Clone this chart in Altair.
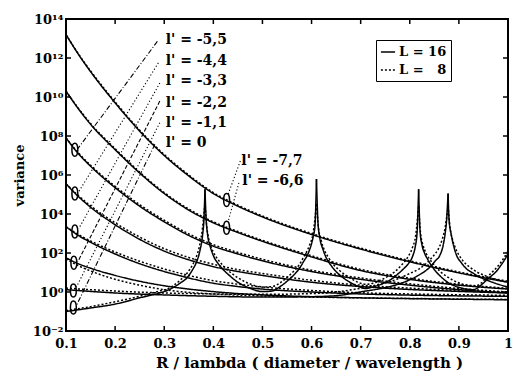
import json
import altair as alt
import pandas as pd

# ---------------- data (exponents = log10 of variance) ----------------
R_GRID = [0.1, 0.125, 0.15, 0.2, 0.25, 0.3, 0.35, 0.4, 0.45, 0.5, 0.6, 0.7, 0.8, 0.9, 1.0]

A16 = [13.2, 12.2, 11.3, 9.7, 8.25, 7.0, 5.95, 5.05, 4.4, 3.85, 2.95, 2.2, 1.55, 0.98, 0.5]
A8 = [13.2, 12.22, 11.34, 9.75, 8.3, 7.05, 6.0, 5.1, 4.45, 3.9, 3.0, 2.25, 1.6, 1.03, 0.55]
B16 = [10.3, 9.4, 8.6, 7.3, 6.1, 5.05, 4.2, 3.55, 3.05, 2.6, 1.8, 1.1, 0.65, 0.35, 0.15]
B8 = [10.3, 9.43, 8.64, 7.35, 6.15, 5.1, 4.25, 3.6, 3.1, 2.65, 1.86, 1.16, 0.71, 0.4, 0.19]
C16 = [7.9, 7.1, 6.45, 5.35, 4.4, 3.6, 2.9, 2.35, 1.95, 1.6, 1.05, 0.65, 0.35, 0.12, -0.05]
C8 = [7.9, 7.14, 6.5, 5.42, 4.48, 3.68, 2.98, 2.43, 2.03, 1.68, 1.12, 0.72, 0.42, 0.18, 0.0]
D16 = [5.55, 4.9, 4.35, 3.45, 2.7, 2.1, 1.65, 1.3, 1.05, 0.85, 0.5, 0.28, 0.13, 0.03, -0.05]
D8 = [5.55, 4.95, 4.42, 3.55, 2.82, 2.22, 1.77, 1.42, 1.15, 0.95, 0.6, 0.35, 0.2, 0.08, 0.0]
E16 = [3.35, 2.9, 2.55, 1.95, 1.45, 1.05, 0.72, 0.45, 0.28, 0.15, 0.0, -0.1, -0.16, -0.2, -0.22]
E8 = [3.35, 2.95, 2.62, 2.05, 1.58, 1.18, 0.85, 0.58, 0.4, 0.26, 0.08, -0.04, -0.1, -0.14, -0.17]
F16 = [1.75, 1.45, 1.22, 0.85, 0.55, 0.32, 0.15, 0.02, -0.08, -0.15, -0.24, -0.3, -0.34, -0.37, -0.4]
F8 = [1.7, 1.35, 1.08, 0.65, 0.35, 0.12, -0.02, -0.1, -0.16, -0.2, -0.26, -0.3, -0.33, -0.36, -0.38]

# l' = -1.1 (rises into the resonance near 0.88)
G16_R1 = [0.1, 0.15, 0.2, 0.3, 0.4, 0.5, 0.6, 0.657, 0.698, 0.739, 0.78, 0.814, 0.83, 0.84, 0.852, 0.861, 0.868, 0.872, 0.875, 0.878]
G16_E1 = [0.12, 0.03, -0.05, -0.15, -0.22, -0.26, -0.24, -0.17, 0.0, 0.17, 0.43, 0.8, 1.05, 1.25, 1.6, 1.87, 2.4, 3.0, 3.7, 5.05]
G16_R2 = [0.878, 0.88, 0.884, 0.889, 0.895, 0.905, 0.915, 0.93, 0.942, 0.96, 0.976, 1.0]
G16_E2 = [5.05, 3.7, 3.0, 2.4, 1.9, 1.5, 1.2, 0.95, 0.77, 0.58, 0.43, 0.26]
G8_R1 = [0.1, 0.15, 0.2, 0.3, 0.4, 0.5, 0.6, 0.65, 0.69, 0.73, 0.77, 0.8, 0.82, 0.835, 0.848, 0.858, 0.866, 0.872, 0.878]
G8_E1 = [0.2, 0.12, 0.05, -0.05, -0.1, -0.12, -0.08, 0.0, 0.15, 0.35, 0.62, 0.95, 1.2, 1.5, 1.85, 2.2, 2.7, 3.3, 4.4]
G8_R2 = [0.878, 0.882, 0.887, 0.893, 0.9, 0.91, 0.922, 0.937, 0.952, 0.97, 0.985, 1.0]
G8_E2 = [4.4, 3.3, 2.7, 2.25, 1.9, 1.55, 1.28, 1.02, 0.85, 0.68, 0.58, 0.5]

# l' = 0 (resonances near 0.383, 0.61, 0.818 and beyond 1)
H16_R1 = [0.1, 0.15, 0.2, 0.25, 0.29, 0.31, 0.332, 0.346, 0.359, 0.366, 0.373, 0.378, 0.381, 0.383]
H16_E1 = [-1.0, -0.82, -0.62, -0.3, -0.05, 0.12, 0.45, 0.72, 1.2, 1.55, 2.15, 2.9, 3.8, 5.27]
H16_R2 = [0.383, 0.385, 0.388, 0.393, 0.4, 0.41, 0.42, 0.435, 0.447, 0.474, 0.5, 0.52, 0.535, 0.55, 0.563, 0.575, 0.583, 0.595, 0.603, 0.607, 0.61]
H16_E2 = [5.27, 3.9, 3.0, 2.4, 1.87, 1.45, 1.15, 0.8, 0.55, 0.2, 0.02, 0.05, 0.26, 0.55, 0.85, 1.2, 1.53, 2.1, 2.8, 3.4, 5.8]
H16_R3 = [0.61, 0.613, 0.617, 0.623, 0.63, 0.64, 0.651, 0.665, 0.678, 0.698, 0.71, 0.725, 0.74, 0.752, 0.765, 0.776, 0.787, 0.797, 0.806, 0.811, 0.815, 0.818]
H16_E3 = [5.8, 3.6, 2.75, 2.2, 1.75, 1.35, 1.02, 0.72, 0.5, 0.26, 0.18, 0.26, 0.38, 0.51, 0.7, 0.93, 1.18, 1.45, 1.85, 2.3, 3.1, 5.27]
H16_R4 = [0.818, 0.821, 0.825, 0.83, 0.837, 0.844, 0.855, 0.868, 0.88, 0.895, 0.915, 0.93, 0.945, 0.956, 0.966, 0.976, 0.985, 0.993, 1.0]
H16_E4 = [5.27, 3.1, 2.4, 2.0, 1.65, 1.36, 1.0, 0.68, 0.45, 0.28, 0.15, 0.12, 0.35, 0.6, 0.82, 1.05, 1.35, 1.65, 1.96]

H8_R1 = [0.1, 0.15, 0.2, 0.25, 0.29, 0.31, 0.332, 0.346, 0.359, 0.366, 0.373, 0.378, 0.383]
H8_E1 = [-0.95, -0.75, -0.5, -0.22, 0.05, 0.2, 0.6, 0.95, 1.45, 1.85, 2.5, 3.3, 4.6]
H8_R2 = [0.383, 0.386, 0.39, 0.395, 0.4, 0.41, 0.42, 0.435, 0.447, 0.474, 0.5, 0.52, 0.535, 0.55, 0.563, 0.575, 0.583, 0.595, 0.603, 0.61]
H8_E2 = [4.6, 3.5, 2.8, 2.35, 2.05, 1.65, 1.35, 1.0, 0.78, 0.42, 0.25, 0.28, 0.45, 0.75, 1.05, 1.4, 1.75, 2.35, 3.0, 4.5]
H8_R3 = [0.61, 0.614, 0.62, 0.627, 0.635, 0.645, 0.655, 0.67, 0.685, 0.7, 0.712, 0.725, 0.74, 0.755, 0.77, 0.782, 0.795, 0.805, 0.812, 0.818]
H8_E3 = [4.5, 3.3, 2.6, 2.1, 1.75, 1.4, 1.15, 0.85, 0.62, 0.45, 0.4, 0.45, 0.6, 0.8, 1.05, 1.35, 1.75, 2.25, 2.9, 4.4]
H8_R4 = [0.818, 0.822, 0.827, 0.833, 0.84, 0.85, 0.862, 0.875, 0.89, 0.905, 0.92, 0.932, 0.945, 0.955, 0.965, 0.975, 0.985, 0.993, 1.0]
H8_E4 = [4.4, 3.0, 2.4, 2.0, 1.7, 1.38, 1.05, 0.8, 0.58, 0.42, 0.32, 0.3, 0.45, 0.7, 0.95, 1.2, 1.5, 1.8, 2.1]

# annotation labels
LABEL_TEXT = ["l' = -5,5", "l' = -4,4", "l' = -3,3", "l' = -2,2", "l' = -1,1", "l' = 0", "l' = -7,7", "l' = -6,6"]
LABEL_R = [0.303, 0.303, 0.303, 0.303, 0.303, 0.303, 0.457, 0.459]
LABEL_E = [12.94, 11.83, 10.81, 9.70, 8.68, 7.66, 6.72, 5.70]

# leader lines (label -> loop marker)
LEAD_R1 = [0.286, 0.288, 0.291, 0.291, 0.291, 0.281, 0.455, 0.452]
LEAD_E1 = [12.85, 11.75, 10.72, 9.79, 8.68, 7.57, 6.72, 5.6]
LEAD_R2 = [0.124, 0.126, 0.126, 0.124, 0.121, 0.121, 0.43, 0.43]
LEAD_E2 = [7.35, 5.15, 3.25, 1.55, 0.25, -0.7, 5.0, 3.6]
LEAD_STYLE = ["dashdot", "dot", "dot", "dash", "dot", "dashdot", "dot", "dot"]

# small loop markers on the curves
LOOP_R = [0.118, 0.118, 0.118, 0.116, 0.115, 0.115, 0.427, 0.427]
LOOP_E = [7.3, 5.05, 3.1, 1.5, 0.08, -0.8, 4.72, 3.3]

X_TICKS = [0.1, 0.2, 0.3, 0.4, 0.5, 0.6, 0.7, 0.8, 0.9, 1.0]
Y_TICK_EXP = [-2, 0, 2, 4, 6, 8, 10, 12, 14]
Y_TICK_LABELS = ["10⁻²", "10⁰", "10²", "10⁴", "10⁶", "10⁸", "10¹⁰", "10¹²", "10¹⁴"]
LEGEND_LABELS = ["L = 16", "L = \u20078"]

# ---------------- build tables ----------------
rows = []


def add(name, L, rs, es):
    for r, e in zip(rs, es):
        rows.append({"r": r, "v": 10 ** e, "series": name, "L": L})


L16, L8 = LEGEND_LABELS
for nm, s16, s8 in [("A", A16, A8), ("B", B16, B8), ("C", C16, C8),
                    ("D", D16, D8), ("E", E16, E8), ("F", F16, F8)]:
    add(nm + "16", L16, R_GRID, s16)
    add(nm + "8", L8, R_GRID, s8)
add("G16a", L16, G16_R1, G16_E1)
add("G16b", L16, G16_R2, G16_E2)
add("G8a", L8, G8_R1, G8_E1)
add("G8b", L8, G8_R2, G8_E2)
for i, (rs, es) in enumerate([(H16_R1, H16_E1), (H16_R2, H16_E2), (H16_R3, H16_E3), (H16_R4, H16_E4)]):
    add(f"H16{i}", L16, rs, es)
for i, (rs, es) in enumerate([(H8_R1, H8_E1), (H8_R2, H8_E2), (H8_R3, H8_E3), (H8_R4, H8_E4)]):
    add(f"H8{i}", L8, rs, es)
curves = pd.DataFrame(rows)

labels = pd.DataFrame({"r": LABEL_R, "v": [10 ** e for e in LABEL_E], "text": LABEL_TEXT})
leaders = pd.DataFrame({"r": LEAD_R1, "v": [10 ** e for e in LEAD_E1],
                        "r2": LEAD_R2, "v2": [10 ** e for e in LEAD_E2], "style": LEAD_STYLE})
loops = pd.DataFrame({"r": LOOP_R, "v": [10 ** e for e in LOOP_E]})
xt = pd.DataFrame({"r": X_TICKS})
yt = pd.DataFrame({"v": [10.0 ** e for e in Y_TICK_EXP]})

W, H = 442, 312
FONT = "DejaVu Serif"
XT = "R / lambda ( diameter / wavelength )"
YT = "variance"

xscale = alt.Scale(domain=[0.1, 1.0], nice=False, zero=False)
yscale = alt.Scale(type="log", domain=[1e-2, 1e14], nice=False)

y_label_expr = json.dumps(Y_TICK_LABELS, ensure_ascii=False) + "[round((log(datum.value)/LN10 + 2) / 2)]"

x_axis = alt.Axis(values=X_TICKS, labelExpr="datum.value == 1 ? '1' : format(datum.value, '.1f')",
                  title=XT, ticks=False, tickSize=0, domain=False,
                  grid=False, labelPadding=6, labelFontSize=13, labelFont=FONT, labelFontWeight="bold",
                  labelFlush=False, labelBaseline="top", titleFont=FONT, titleFontWeight="bold",
                  titleFontSize=15, titleX=243, titleY=36, titleAlign="center", titleBaseline="alphabetic",
                  titleColor="black", labelColor="black")
y_axis = alt.Axis(values=[10.0 ** e for e in Y_TICK_EXP], labelExpr=y_label_expr,
                  title=YT, ticks=False, tickSize=0, domain=False, grid=False,
                  labelPadding=3, labelFontSize=13, labelFont=FONT, labelFontWeight="bold",
                  labelFlush=False, labelOverlap=False, labelBaseline="middle",
                  titleFont=FONT, titleFontWeight="bold", titleFontSize=13,
                  titleX=-43, titleY=156, titleAngle=-90, titleAlign="center",
                  titleBaseline="alphabetic", titleColor="black", labelColor="black")

lines = alt.Chart(curves).mark_line(interpolate="monotone", color="black", strokeWidth=1.5, clip=True).encode(
    x=alt.X("r:Q", scale=xscale, axis=x_axis),
    y=alt.Y("v:Q", scale=yscale, axis=y_axis),
    detail="series:N",
    strokeDash=alt.StrokeDash("L:N", scale=alt.Scale(domain=LEGEND_LABELS, range=[[1, 0], [2, 2]]),
                              legend=alt.Legend(title=None, orient="none", legendX=310, legendY=21,
                                                strokeColor="black", fillColor="white", padding=4,
                                                symbolType="stroke", symbolSize=200, symbolStrokeWidth=1.6,
                                                symbolStrokeColor="black", labelFont=FONT,
                                                labelFontWeight="bold", labelFontSize=13,
                                                labelColor="black", rowPadding=3, labelOffset=3,
                                                columnPadding=0)),
)


def leader_layer(style, dash):
    return alt.Chart(leaders).transform_filter(alt.datum.style == style).mark_rule(
        color="black", strokeWidth=1.1, strokeDash=dash).encode(
        x=alt.X("r:Q", title=XT), y=alt.Y("v:Q", title=YT), x2="r2:Q", y2="v2:Q")


lead_dashdot = leader_layer("dashdot", [5, 2, 1, 2])
lead_dot = leader_layer("dot", [1.2, 2.2])
lead_dash = leader_layer("dash", [4, 2])

loop_shape = "M0,-1 C0.6,-1 0.6,1 0,1 C-0.6,1 -0.6,-1 0,-1 Z"
loop_marks = alt.Chart(loops).mark_point(shape=loop_shape, filled=False, size=170, color="black",
                                         strokeWidth=1.5, opacity=1).encode(
    x=alt.X("r:Q", title=XT), y=alt.Y("v:Q", title=YT))

text_marks = alt.Chart(labels).mark_text(align="left", baseline="middle", font=FONT, fontWeight="bold",
                                         fontSize=14, color="black").encode(
    x=alt.X("r:Q", title=XT), y=alt.Y("v:Q", title=YT), text="text:N")

xt_base = alt.Chart(xt).mark_rule(color="black", strokeWidth=1.5)
tick_bottom = xt_base.encode(x=alt.X("r:Q", title=XT), y=alt.value(H), y2=alt.value(H - 5))
tick_top = xt_base.encode(x=alt.X("r:Q", title=XT), y=alt.value(0), y2=alt.value(5))
yt_base = alt.Chart(yt).mark_rule(color="black", strokeWidth=1.5)
tick_left = yt_base.encode(y=alt.Y("v:Q", title=YT), x=alt.value(0), x2=alt.value(5))
tick_right = yt_base.encode(y=alt.Y("v:Q", title=YT), x=alt.value(W), x2=alt.value(W - 5))

chart = alt.layer(lines, lead_dashdot, lead_dot, lead_dash, loop_marks, text_marks,
                  tick_bottom, tick_top, tick_left, tick_right).properties(
    width=W, height=H,
    autosize=alt.AutoSizeParams(type="none"),
    padding={"left": 66, "top": 19, "right": 5, "bottom": 45},
    background="white",
).configure_view(stroke="black", strokeWidth=2)

chart.save("out.html", embed_options={"renderer": "svg", "actions": False})
